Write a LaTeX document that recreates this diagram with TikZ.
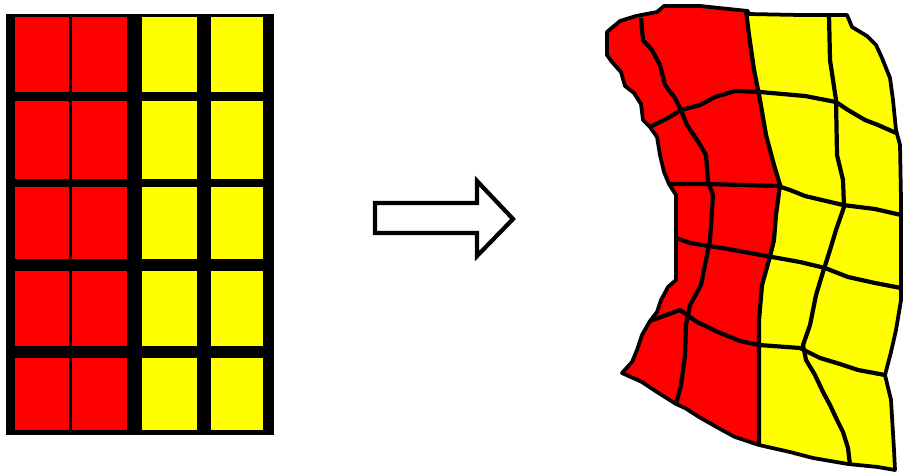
\documentclass[tikz,border=0pt]{standalone}
\definecolor{cellred}{RGB}{255,0,0}
\definecolor{cellyellow}{RGB}{255,255,0}
\begin{document}
\begin{tikzpicture}[x=0.03cm,y=-0.03cm,
  meshline/.style={line width=3.6pt,line join=round},
  rimline/.style={line width=3.2pt,line join=round},
  arrowbody/.style={fill=white,draw=black,line width=3.6pt,line join=miter}]
\useasboundingbox (0,0) rectangle (906,474);
% ---------- left regular grid ----------
\fill[black] (6,14) rectangle (274,435);
\foreach \xa/\xb/\c in {15/69/cellred,72/127/cellred,142/197/cellyellow,211/263/cellyellow}
  \foreach \ya/\yb in {17/92,101/179,187/259,271/346,358/430}
    \fill[\c] (\xa,\ya) rectangle (\xb,\yb);
% ---------- arrow ----------
\draw[arrowbody] (375,203) -- (477,203) -- (477,181) -- (513,219) -- (477,256) -- (477,233) -- (375,233) -- cycle;
% ---------- deformed grid: fills ----------
\fill[cellred] (607,32) -- (620,21) -- (636,16) -- (657,12) -- (664,6) -- (700,6) -- (748,11)
  -- (749,35) -- (754,70) -- (760,100) -- (766,135) -- (774,165) -- (780,185) -- (776,215)
  -- (774,240) -- (769,260) -- (762,285) -- (759,320) -- (759,345) -- (759,445)
  -- (735,437) -- (722,430) -- (699,417) -- (685,408) -- (676,404) -- (657,392) -- (642,382) -- (622,373)
  -- (632,362) -- (637,350) -- (642,335) -- (650,321) -- (657,312) -- (661,300) -- (668,287) -- (676,280)
  -- (676,195) -- (669,184) -- (664,172) -- (660,155) -- (657,137) -- (650,127) -- (643,120) -- (641,104)
  -- (634,93) -- (625,86) -- (621,72) -- (612,62) -- (607,55) -- cycle;
\fill[cellyellow] (748,13) -- (800,15) -- (847,15)
  -- (852,27) -- (867,36) -- (876,45) -- (882,58) -- (890,78) -- (893,100) -- (896,130) -- (900,145)
  -- (901,200) -- (901,300) -- (896,330) -- (891,352) -- (885,375) -- (891,400) -- (894,450) -- (895,470)
  -- (878,467) -- (848,464) -- (813,458) -- (790,452) -- (759,445)
  -- (759,345) -- (759,320) -- (762,285) -- (769,260) -- (774,240) -- (776,215) -- (780,185)
  -- (774,165) -- (766,135) -- (760,100) -- (754,70) -- (749,35) -- cycle;
% ---------- deformed grid: inner lines ----------
% column lines
\draw[meshline] (641,18) -- (643,40) -- (652,50) -- (660,65) -- (665,85) -- (675,98) -- (681,110)
  -- (687,125) -- (699,143) -- (706,155) -- (708,182) -- (713,195) -- (710,240) -- (706,260)
  -- (701,285) -- (690,305) -- (686,325) -- (685,355) -- (681,385) -- (676,404);
\draw[meshline] (746,11) -- (749,35) -- (754,70) -- (760,100) -- (766,135) -- (774,165) -- (780,185)
  -- (776,215) -- (774,240) -- (769,260) -- (762,285) -- (759,320) -- (759,345) -- (759,445);
\draw[meshline] (829,15) -- (830,60) -- (836,100) -- (837,155) -- (843,180) -- (844,207) -- (836,230)
  -- (830,250) -- (823,272) -- (816,295) -- (810,325) -- (803,345) -- (806,360) -- (815,375)
  -- (823,392) -- (830,405) -- (837,420) -- (843,432) -- (848,448) -- (850,465);
% row lines
\draw[meshline] (650,127) -- (668,118) -- (681,110) -- (700,105) -- (715,97) -- (735,91) -- (760,92)
  -- (805,96) -- (836,102) -- (848,110) -- (865,120) -- (878,125) -- (896,133);
\draw[meshline] (670,184) -- (708,184) -- (778,186) -- (790,190) -- (805,196) -- (843,205)
  -- (875,209) -- (901,215);
\draw[meshline] (676,238) -- (690,243) -- (728,249) -- (772,257) -- (800,262) -- (825,268)
  -- (848,277) -- (875,283) -- (901,288);
\draw[meshline] (650,321) -- (680,310) -- (697,322) -- (718,332) -- (740,341) -- (759,345)
  -- (800,348) -- (820,358) -- (840,364) -- (858,370) -- (885,375);
% ---------- deformed grid: outline ----------
\draw[rimline] (607,32) -- (620,21) -- (636,16) -- (657,12) -- (664,6) -- (700,6) -- (748,11)
  -- (748,14) -- (800,15) -- (847,15)
  -- (852,27) -- (867,36) -- (876,45) -- (882,58) -- (890,78) -- (893,100) -- (896,130) -- (900,145)
  -- (901,200) -- (901,300) -- (896,330) -- (891,352) -- (885,375) -- (891,400) -- (894,450) -- (895,470)
  -- (878,467) -- (848,464) -- (813,458) -- (790,452) -- (759,445)
  -- (735,437) -- (722,430) -- (699,417) -- (685,408) -- (676,404) -- (657,392) -- (642,382) -- (622,373)
  -- (632,362) -- (637,350) -- (642,335) -- (650,321) -- (657,312) -- (661,300) -- (668,287) -- (676,280)
  -- (676,195) -- (669,184) -- (664,172) -- (660,155) -- (657,137) -- (650,127) -- (643,120) -- (641,104)
  -- (634,93) -- (625,86) -- (621,72) -- (612,62) -- (607,55) -- cycle;
\end{tikzpicture}
\end{document}
